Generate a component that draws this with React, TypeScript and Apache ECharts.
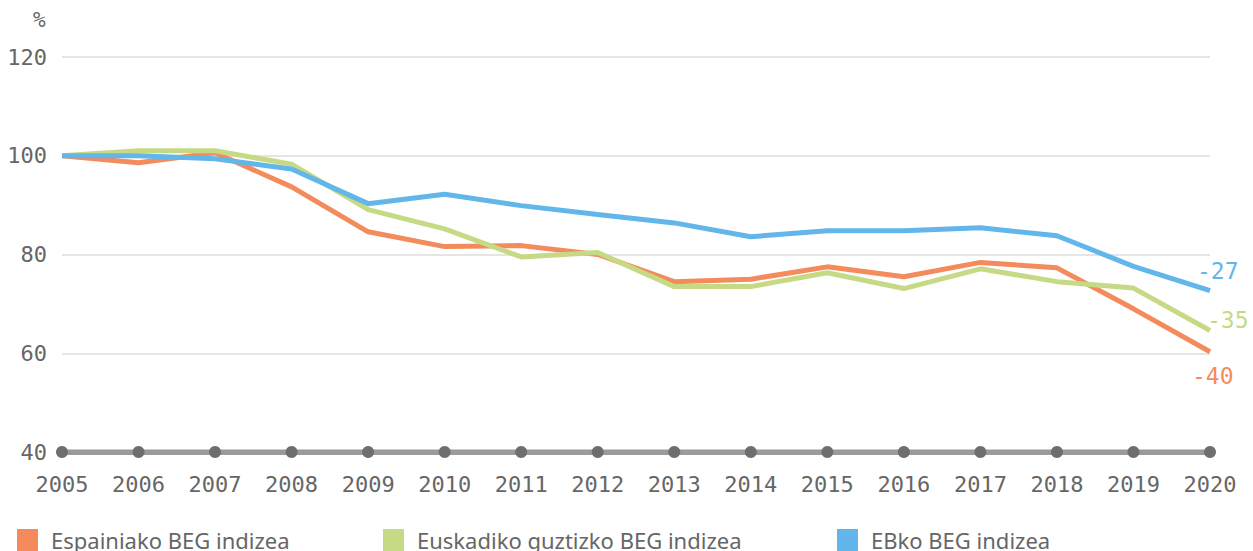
import React, { useEffect, useRef } from "react";
import * as echarts from "echarts";

const years = ["2005","2006","2007","2008","2009","2010","2011","2012","2013","2014","2015","2016","2017","2018","2019","2020"];
const spain = [100, 98.6, 100.6, 93.7, 84.6, 81.6, 81.8, 80.0, 74.5, 75.0, 77.5, 75.5, 78.4, 77.3, 69.0, 60.3];
const basque = [100, 101.0, 101.0, 98.3, 89.1, 85.2, 79.5, 80.4, 73.5, 73.5, 76.3, 73.1, 77.1, 74.5, 73.2, 64.6];
const eu = [100, 100.0, 99.4, 97.3, 90.3, 92.2, 89.9, 88.1, 86.4, 83.6, 84.8, 84.8, 85.4, 83.8, 77.6, 72.7];
const axisBase = years.map(() => 40);
const yTicks = { min: 40, max: 120, interval: 20 };
const names = ["Espainiako BEG indizea", "Euskadiko guztizko BEG indizea", "EBko BEG indizea"];
const colors = ["#F38B5C", "#C6D985", "#62B6E9"];

const mono = "'DejaVu Sans Mono', 'Liberation Mono', monospace";
const sans = "'Noto Sans', 'Open Sans', sans-serif";

function change(arr: number[]) {
  return String(Math.round((arr[arr.length - 1] / arr[0] - 1) * 100));
}

export default function App() {
  const ref = useRef<HTMLDivElement>(null);
  useEffect(() => {
    if (!ref.current) return;
    const chart = echarts.init(ref.current, null, { renderer: "svg" });
    const series: any[] = [];
    const data = [spain, basque, eu];
    const offsets = [[-18, 24], [-3, -11], [-13, -20]];
    data.forEach((d, i) => {
      series.push({
        name: names[i],
        type: "line",
        data: d,
        symbol: "none",
        lineStyle: { color: colors[i], width: 5 },
        itemStyle: { color: colors[i] },
        z: 3 + i,
        endLabel: {
          show: true,
          formatter: () => change(d),
          distance: 0,
          align: "left",
          verticalAlign: "middle",
          offset: offsets[i],
          color: colors[i],
          fontFamily: mono,
          fontSize: 23,
        },
      });
    });
    series.push({
      name: "axis",
      type: "line",
      data: axisBase,
      symbol: "circle",
      symbolSize: 12,
      itemStyle: { color: "#6e6e6e" },
      lineStyle: { color: "#9a9a9a", width: 5 },
      z: 2,
      silent: true,
    });
    const legends = names.map((n, i) => ({
      data: [n],
      left: [12, 378, 832][i],
      top: 524,
      icon: "rect",
      itemWidth: 21,
      itemHeight: 22,
      itemGap: 0,
      selectedMode: false,
      textStyle: { color: "#666", fontFamily: sans, fontSize: 22, padding: [0, 0, 0, 8] },
    }));
    chart.setOption({
      animation: false,
      color: colors,
      grid: { left: 62, right: 43, top: 57, bottom: 99 },
      legend: legends,
      graphic: [
        { type: "text", left: 33, top: 9, style: { text: "%", fill: "#666", font: `21px ${mono}` } },
      ],
      xAxis: {
        type: "category",
        data: years,
        boundaryGap: false,
        axisLine: { show: true, lineStyle: { color: "#9a9a9a", width: 5 } },
        axisTick: { show: false },
        axisLabel: { color: "#666", fontFamily: mono, fontSize: 22, margin: 21 },
        splitLine: { show: false },
      },
      yAxis: {
        type: "value",
        min: yTicks.min,
        max: yTicks.max,
        interval: yTicks.interval,
        axisLine: { show: false },
        axisTick: { show: false },
        axisLabel: { color: "#666", fontFamily: mono, fontSize: 22, margin: 15 },
        splitLine: { lineStyle: { color: "#dcdcdc", width: 1.5 } },
      },
      series,
    });
    return () => chart.dispose();
  }, []);
  return <div ref={ref} style={{ width: 1253, height: 551, position: "absolute", left: 0, top: 0 }} />;
}
